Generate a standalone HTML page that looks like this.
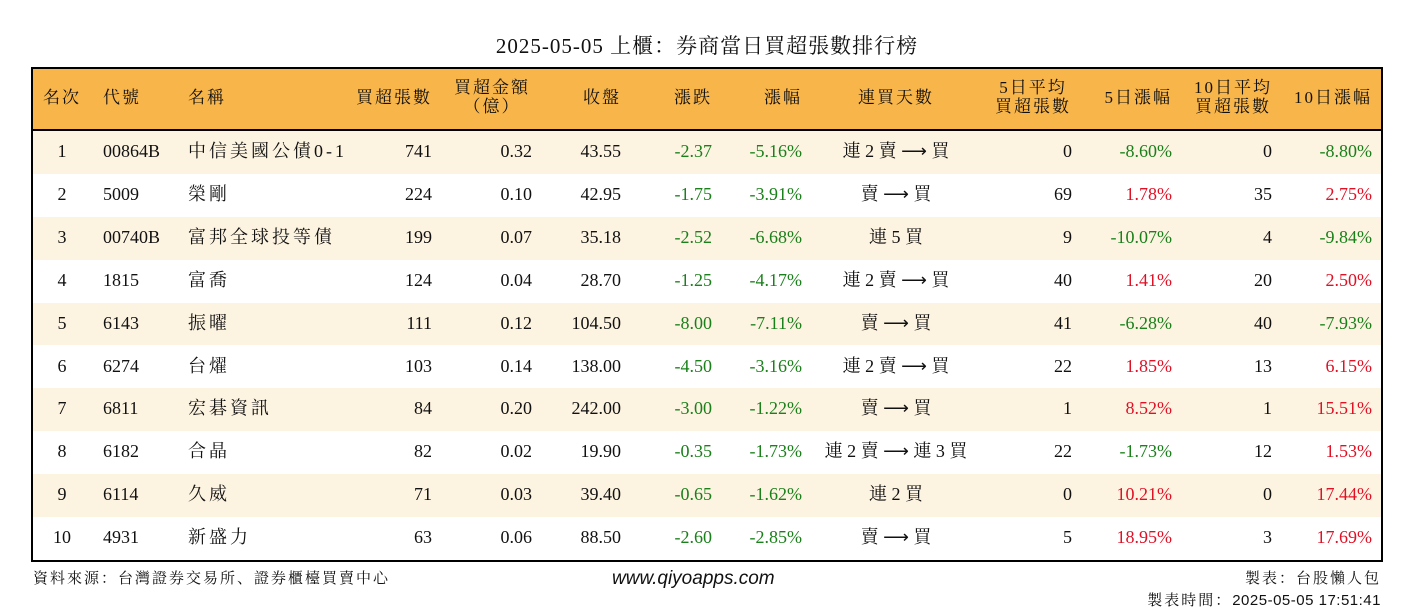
<!DOCTYPE html>
<html><head><meta charset="utf-8"><style>
body{margin:0;width:1414px;height:612px;background:#fff;position:relative;overflow:hidden;font-family:"Liberation Serif","Noto Serif CJK SC",serif;color:#111}
.t{position:absolute;white-space:nowrap;font-size:18px;line-height:20px}
#title{position:absolute;left:0;width:1414px;top:30px;text-align:center;font-size:21px;letter-spacing:1px}
#tbl{position:absolute;left:31px;top:67px;width:1348px;height:491px;border:2px solid #000;overflow:hidden}
#hdr{position:absolute;left:0;top:0;width:100%;height:60px;background:#F8B54A;border-bottom:2px solid #000}
.row{position:absolute;left:0;width:100%;height:42.9px}
.h{font-size:17px;line-height:18px;letter-spacing:2px}
.sp{letter-spacing:3px}
.g{color:#1a801a}.r{color:#e01025}
.foot{position:absolute;font-size:15px;font-family:"Liberation Serif","Noto Serif CJK SC",serif;white-space:nowrap;letter-spacing:2px}
</style></head><body>
<div id="title">2025-05-05 上櫃：券商當日買超張數排行榜</div>
<div id="tbl">
<div id="hdr"></div>
</div>
<div class="foot" style="left:33px;top:567px">資料來源：台灣證券交易所、證券櫃檯買賣中心</div>
<div class="foot" style="left:612px;top:568px;font-size:19px;font-style:italic;letter-spacing:0;font-family:'Liberation Sans',sans-serif">www.qiyoapps.com</div>
<div class="foot" style="right:33px;top:567px">製表：台股懶人包</div>
<div class="foot" style="right:33px;top:589px">製表時間：<span style="font-family:'Liberation Sans',sans-serif;letter-spacing:0.5px">2025-05-05 17:51:41</span></div>
<script>
const ranks=[1,2,3,4,5,6,7,8,9,10];
const codes=["00864B","5009","00740B","1815","6143","6274","6811","6182","6114","4931"];
const names=["中信美國公債0-1","榮剛","富邦全球投等債","富喬","振曜","台燿","宏碁資訊","合晶","久威","新盛力"];
const buyQty=[741,224,199,124,111,103,84,82,71,63];
const buyAmt=["0.32","0.10","0.07","0.04","0.12","0.14","0.20","0.02","0.03","0.06"];
const closes=["43.55","42.95","35.18","28.70","104.50","138.00","242.00","19.90","39.40","88.50"];
const changes=["-2.37","-1.75","-2.52","-1.25","-8.00","-4.50","-3.00","-0.35","-0.65","-2.60"];
const pct=["-5.16%","-3.91%","-6.68%","-4.17%","-7.11%","-3.16%","-1.22%","-1.73%","-1.62%","-2.85%"];
const streak=["連 2 賣 ⟶ 買","賣 ⟶ 買","連 5 買","連 2 賣 ⟶ 買","賣 ⟶ 買","連 2 賣 ⟶ 買","賣 ⟶ 買","連 2 賣 ⟶ 連 3 買","連 2 買","賣 ⟶ 買"];
const avg5=[0,69,9,40,41,22,1,22,0,5];
const pct5=["-8.60%","1.78%","-10.07%","1.41%","-6.28%","1.85%","8.52%","-1.73%","10.21%","18.95%"];
const avg10=[0,35,4,20,40,13,1,12,0,3];
const pct10=["-8.80%","2.75%","-9.84%","2.50%","-7.93%","6.15%","15.51%","1.53%","17.44%","17.69%"];
const tbl=document.getElementById('tbl');
function add(parent,txt,x,y,align,cls,name){
  const d=document.createElement('div');
  d.className='t '+(cls||'');
  d.textContent=txt;
  
  
  d.style.top=y+'px';
  if(align==='l')d.style.left=x+'px';
  else if(align==='r')d.style.right=(1348-x)+'px';
  else{d.style.left=(x-150)+'px';d.style.width='300px';d.style.textAlign='center';}
  parent.appendChild(d);return d;
}
const O=33;
const hdr=document.getElementById('hdr');
const H=[["名次",62,'c'],["代號",103,'l'],["名稱",188,'l'],["買超張數",432,'r'],["漲跌",712,'r'],["收盤",621,'r'],["漲幅",802,'r'],["連買天數",896,'c'],["5日漲幅",1172,'r'],["10日漲幅",1372,'r']];
H.forEach(h=>{add(hdr,h[0],h[1]-O,20,h[2],'h','header-'+h[0]);});
const H2=[["買超金額",492,"（億）"],["5日平均",1033,"買超張數"],["10日平均",1233,"買超張數"]];
H2.forEach(h=>{add(hdr,h[0],h[1]-O,10,'c','h','header-'+h[0]);add(hdr,h[2],h[1]-O,29,'c','h','header-'+h[0]+'-sub');});
const col=v=>v.startsWith('-')?'g':'r';
ranks.forEach((rk,i)=>{
  const r=document.createElement('div');
  r.className='row';
  
  
  r.style.top=(62+i*42.9)+'px';
  r.style.background=i%2===0?'#FDF3E1':'#fff';
  tbl.appendChild(r);
  const y=10;
  add(r,rk,62-O,y,'c','','rank');
  add(r,codes[i],103-O,y,'l','','code');
  add(r,names[i],188-O,y,'l','sp','name');
  add(r,buyQty[i],432-O,y,'r','','buy-qty');
  add(r,buyAmt[i],532-O,y,'r','','buy-amount');
  add(r,closes[i],621-O,y,'r','','close');
  add(r,changes[i],712-O,y,'r',col(changes[i]),'change');
  add(r,pct[i],802-O,y,'r',col(pct[i]),'change-pct');
  add(r,streak[i],896-O,y,'c','','streak');
  add(r,avg5[i],1072-O,y,'r','','avg5');
  add(r,pct5[i],1172-O,y,'r',col(pct5[i]),'pct5');
  add(r,avg10[i],1272-O,y,'r','','avg10');
  add(r,pct10[i],1372-O,y,'r',col(pct10[i]),'pct10');
});
</script>
</body></html>
